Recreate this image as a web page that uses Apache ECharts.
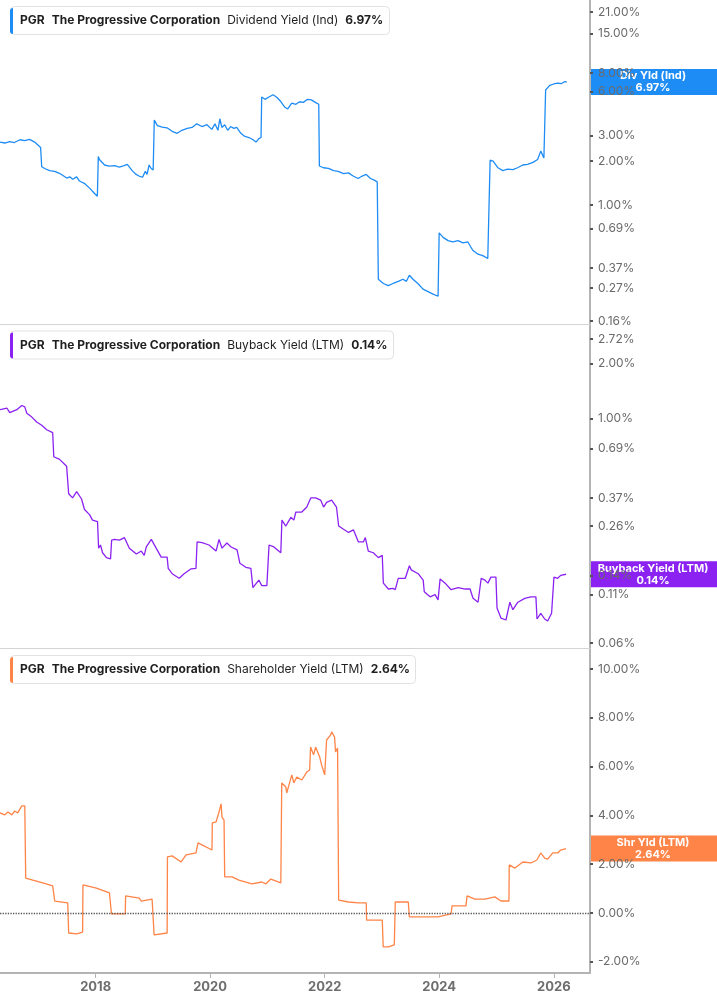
<!DOCTYPE html>
<html lang="en">
<head>
<meta charset="UTF-8">
<title>PGR yields</title>
<script src="https://cdn.jsdelivr.net/npm/echarts@6/dist/echarts.min.js"></script>
<style>
  html, body { margin: 0; padding: 0; background: #fff; }
  #main { width: 717px; height: 1005px; }
</style>
</head>
<body>
<div id="main"></div>
<script>
// dividend yield (ind), %
var divDates = ['2016-05-01','2016-06-01','2016-07-01','2016-08-01','2016-09-05','2016-10-05','2016-11-05','2016-12-08','2017-01-15','2017-01-22',
  '2017-02-10','2017-03-13','2017-04-15','2017-05-15','2017-07-01','2017-07-20','2017-08-08','2017-09-02','2017-09-20','2017-10-24','2017-11-25','2017-12-25','2018-01-12','2018-01-18',
  '2018-01-25','2018-02-27','2018-03-28','2018-05-01','2018-06-01','2018-07-01','2018-07-22','2018-08-22','2018-09-16','2018-10-05','2018-10-27','2018-11-14','2018-11-25','2018-12-08','2018-12-21','2019-01-03','2019-01-10',
  '2019-01-30','2019-03-01','2019-04-01','2019-05-04','2019-06-05','2019-07-05','2019-08-08','2019-09-08','2019-10-08','2019-11-10','2019-12-12','2020-01-12','2020-02-01','2020-02-20','2020-03-03','2020-03-16','2020-04-03','2020-04-22','2020-05-11','2020-06-01','2020-06-19','2020-07-15','2020-08-10','2020-09-05','2020-10-01','2020-10-20','2020-11-07','2020-11-21','2020-11-25',
  '2020-12-16','2021-01-10','2021-02-06','2021-03-03','2021-03-28','2021-04-20','2021-05-10','2021-06-05','2021-07-01','2021-07-25','2021-08-18','2021-09-13','2021-10-08','2021-11-02','2021-11-24','2021-11-28',
  '2021-12-24','2022-01-25','2022-02-27','2022-03-28','2022-05-01','2022-06-02','2022-07-01','2022-08-02','2022-08-28','2022-09-23','2022-10-20','2022-11-13','2022-12-02','2022-12-09',
  '2023-01-10','2023-02-10','2023-03-13','2023-04-15','2023-05-15','2023-06-06','2023-06-25','2023-07-18','2023-08-18','2023-09-20','2023-10-22','2023-11-23','2023-12-25','2024-01-01',
  '2024-01-26','2024-02-27','2024-03-28','2024-04-30','2024-06-01','2024-07-01','2024-08-02','2024-09-05','2024-10-05','2024-11-06','2024-11-21',
  '2024-12-10','2025-01-10','2025-02-10','2025-03-13','2025-04-15','2025-05-15','2025-06-17','2025-07-18','2025-08-21','2025-09-20','2025-10-10','2025-10-30','2025-11-10',
  '2025-12-06','2026-01-01','2026-01-26','2026-02-20','2026-03-10','2026-03-25'];
var divValues = [2.70,2.66,2.72,2.68,2.80,2.76,2.82,2.70,2.48,1.83,
  1.78,1.72,1.70,1.65,1.53,1.56,1.50,1.56,1.46,1.40,1.30,1.20,1.15,2.15,
  2.05,1.88,1.85,1.86,1.82,1.86,1.90,1.72,1.62,1.58,1.55,1.70,1.62,1.88,1.78,1.74,3.82,
  3.50,3.42,3.38,3.20,3.10,3.25,3.35,3.40,3.60,3.45,3.55,3.30,3.60,3.25,3.90,3.40,3.55,3.25,3.45,3.35,3.40,3.10,2.95,2.90,2.80,2.70,2.85,2.90,5.50,
  5.30,5.50,5.70,5.45,5.10,4.70,4.55,5.00,4.90,5.10,5.05,5.30,5.25,5.05,4.90,1.85,
  1.80,1.78,1.72,1.70,1.64,1.66,1.58,1.52,1.58,1.62,1.52,1.48,1.44,0.31,
  0.29,0.28,0.29,0.30,0.31,0.30,0.33,0.31,0.29,0.265,0.255,0.245,0.237,0.645,
  0.60,0.57,0.56,0.57,0.55,0.56,0.49,0.46,0.45,0.43,2.03,
  2.00,1.80,1.72,1.76,1.75,1.80,1.88,1.90,1.96,2.05,2.34,2.10,6.14,
  6.60,6.75,6.85,6.80,7.00,6.97];

// buyback yield (LTM), %
var bbDates = ['2016-05-01','2016-06-15','2016-07-02','2016-08-16','2016-09-17','2016-10-06','2016-10-19','2016-11-20','2016-12-21','2017-01-22','2017-02-23','2017-04-02','2017-04-09',
  '2017-05-16','2017-06-30','2017-07-12','2017-07-13','2017-08-07','2017-09-02','2017-10-03','2017-10-22','2017-11-23','2017-12-12','2018-01-13','2018-01-20',
  '2018-02-01','2018-02-14','2018-03-11','2018-04-06','2018-04-13','2018-05-01','2018-06-02','2018-07-03','2018-08-04','2018-09-18','2018-10-19','2018-11-07','2018-11-20','2018-12-22',
  '2019-01-22','2019-02-23','2019-04-02','2019-04-09','2019-05-04','2019-06-18','2019-07-19','2019-09-02','2019-10-03','2019-10-10','2019-11-10','2019-12-25',
  '2020-02-08','2020-02-27','2020-03-17','2020-04-17','2020-05-14','2020-06-21','2020-07-09','2020-08-16','2020-09-17','2020-09-30','2020-11-07','2020-11-26','2020-12-28',
  '2021-01-11','2021-02-11','2021-03-27','2021-04-03','2021-04-28','2021-05-30','2021-06-18','2021-07-01','2021-08-08','2021-09-09','2021-10-04','2021-11-04','2021-12-06','2021-12-25',
  '2022-01-13','2022-02-14','2022-03-17','2022-03-31','2022-05-01','2022-06-02','2022-07-03','2022-08-04','2022-09-05','2022-09-17','2022-10-06','2022-11-07','2022-12-09',
  '2023-01-03','2023-01-10','2023-02-11','2023-03-14','2023-03-27','2023-04-15','2023-05-30','2023-06-25','2023-07-07','2023-08-20','2023-09-21','2023-09-28','2023-11-04','2023-12-06','2023-12-25',
  '2024-01-07','2024-02-08','2024-03-17','2024-05-01','2024-06-15','2024-07-16','2024-08-04','2024-09-05','2024-09-25','2024-10-19','2024-11-07','2024-11-26','2024-12-28',
  '2025-01-04','2025-01-29','2025-03-02','2025-03-27','2025-04-15','2025-05-17','2025-06-30','2025-08-08','2025-09-09','2025-09-16','2025-10-10','2025-11-04','2025-11-23','2025-12-18',
  '2026-01-02','2026-01-26','2026-02-14','2026-03-20'];
var bbValues = [1.12,1.14,1.08,1.12,1.18,1.16,1.07,1.02,0.96,0.92,0.87,0.84,0.62,
  0.60,0.55,0.54,0.39,0.37,0.40,0.365,0.32,0.30,0.28,0.275,0.197,
  0.205,0.186,0.175,0.172,0.218,0.22,0.218,0.225,0.197,0.183,0.19,0.18,0.20,0.22,
  0.197,0.176,0.176,0.153,0.143,0.135,0.143,0.152,0.153,0.213,0.211,0.205,
  0.19,0.22,0.197,0.21,0.20,0.193,0.163,0.155,0.153,0.12,0.132,0.123,0.123,
  0.205,0.20,0.186,0.28,0.26,0.29,0.28,0.31,0.31,0.33,0.37,0.37,0.36,0.33,
  0.35,0.36,0.33,0.26,0.25,0.24,0.248,0.213,0.213,0.225,0.19,0.186,0.175,
  0.18,0.127,0.118,0.119,0.117,0.135,0.135,0.158,0.15,0.143,0.132,0.114,0.107,0.11,0.103,
  0.134,0.127,0.117,0.12,0.118,0.118,0.105,0.10,0.135,0.132,0.127,0.137,0.137,
  0.093,0.082,0.080,0.10,0.091,0.10,0.105,0.107,0.107,0.081,0.087,0.081,0.079,0.087,
  0.137,0.135,0.14,0.142];

// shareholder yield (LTM), %
var shyDates = ['2016-05-01','2016-06-01','2016-06-20','2016-07-16','2016-08-03','2016-08-22','2016-09-17','2016-10-06','2016-10-12',
  '2016-11-26','2017-01-29','2017-04-02','2017-04-15','2017-07-07','2017-07-13','2017-09-02','2017-10-10','2017-10-12',
  '2018-01-06','2018-03-30','2018-04-12','2018-07-09','2018-07-11','2018-10-06','2018-10-19','2018-12-27','2019-01-09','2019-04-02','2019-04-04',
  '2019-05-04','2019-06-30','2019-08-01','2019-10-03','2019-10-16','2019-11-10','2020-01-13','2020-01-15','2020-02-08','2020-02-27','2020-03-11','2020-03-17','2020-03-30','2020-04-03',
  '2020-05-20','2020-07-03','2020-09-24','2020-11-26','2020-12-21','2021-01-22','2021-03-27','2021-04-02',
  '2021-04-28','2021-05-04','2021-06-05','2021-06-18','2021-07-07','2021-08-08','2021-09-09','2021-09-27','2021-10-03','2021-10-22','2021-11-04','2021-11-30','2021-12-12',
  '2022-01-01','2022-01-07','2022-01-13','2022-02-08','2022-02-14','2022-03-05','2022-03-11','2022-03-24','2022-03-31',
  '2022-06-02','2022-08-04','2022-09-23','2022-09-25','2023-01-03','2023-01-09','2023-02-11','2023-03-21','2023-03-27','2023-06-18','2023-06-25',
  '2023-12-25','2024-01-06','2024-03-17','2024-03-23','2024-06-20','2024-06-27','2024-08-16','2024-10-19','2024-12-21','2025-01-29','2025-03-21','2025-03-23',
  '2025-04-28','2025-06-18','2025-08-08','2025-09-15','2025-10-10','2025-11-04','2025-11-23','2025-12-25','2026-01-26','2026-02-14','2026-03-20'];
var shyValues = [4.10,4.02,4.14,4.02,4.18,4.10,4.39,4.39,1.43,
  1.35,1.23,1.11,0.49,0.41,-0.82,-0.86,-0.78,1.15,
  1.02,0.82,-0.04,-0.04,0.70,0.61,0.49,0.57,-0.90,-0.82,2.30,
  2.34,2.09,2.38,2.46,2.87,2.79,2.58,3.69,3.73,4.14,4.47,3.93,3.81,1.48,
  1.48,1.35,1.19,1.27,1.19,1.39,1.23,5.33,
  5.16,4.92,5.66,5.33,5.57,5.45,5.78,5.86,6.80,6.48,6.80,6.39,6.07,
  5.66,5.70,7.09,7.30,7.42,7.21,6.60,6.76,0.53,
  0.45,0.41,0.41,-0.29,-0.29,-1.39,-1.39,-1.31,0.45,0.45,-0.16,
  -0.16,-0.08,-0.04,0.29,0.29,0.70,0.57,0.57,0.66,0.49,0.49,1.97,
  1.84,2.09,2.05,2.17,2.46,2.25,2.21,2.46,2.46,2.58,2.64];

// axis ticks
var divTicks = [21, 15, 8, 6, 3, 2, 1, 0.69, 0.37, 0.27, 0.16];
var bbTicks = [2.72, 2, 1, 0.69, 0.37, 0.26, 0.14, 0.11, 0.06];
var shyTicks = [-2, 0, 2, 4, 6, 8, 10];
var yearTicks = ['2018-01-01', '2020-01-01', '2022-01-01', '2024-01-01', '2026-01-01'];

var panels = [
  { name: 'Dividend Yield (Ind)', short: 'Div Yld (Ind)', last: '6.97%', color: '#1e8cf5', dates: divDates, values: divValues },
  { name: 'Buyback Yield (LTM)', short: 'Buyback Yield (LTM)', last: '0.14%', color: '#8b22f2', dates: bbDates, values: bbValues },
  { name: 'Shareholder Yield (LTM)', short: 'Shr Yld (LTM)', last: '2.64%', color: '#ff8447', dates: shyDates, values: shyValues }
];

var FONT = 'Inter, "Noto Sans", sans-serif';

function ts(d) {
  return new Date(d + 'T00:00:00Z').getTime();
}
function pairs(d, v) {
  return d.map(function (x, i) { return [ts(x), v[i]]; });
}
function pct(v) {
  return (+v).toFixed(2) + '%';
}

var grids = [
  { left: 0, right: 127, top: 0, height: 324 },
  { left: 0, right: 127, top: 324, height: 324 },
  { left: 0, right: 127, top: 648, height: 325 }
];

// value axis on timestamps so the year ticks can be placed on 1 Jan
var yearTs = yearTicks.map(ts);
var xAxes = grids.map(function (g, i) {
  var last = i === 2;
  return {
    type: 'value', gridIndex: i, min: ts('2016-05-01'), max: ts('2026-08-20'),
    axisLine: { show: true, onZero: false, lineStyle: { color: last ? '#b4b4b4' : '#d4d4d4', width: last ? 2 : 1 } },
    axisTick: { show: last, customValues: yearTs, length: 5, lineStyle: { color: '#b4b4b4', width: 1 } },
    axisLabel: {
      show: last, customValues: yearTs, margin: 8,
      color: '#6e6e6e', fontSize: 13, fontWeight: 'bold', fontFamily: FONT,
      formatter: function (v) { return String(new Date(v).getUTCFullYear()); }
    },
    splitLine: { show: false }
  };
});

function yAxisBase(i, ticks) {
  return {
    gridIndex: i, position: 'right',
    axisLine: { show: true, lineStyle: { color: '#b4b4b4', width: 2 } },
    axisTick: { show: true, customValues: ticks, length: 3, lineStyle: { color: '#555', width: 2 } },
    axisLabel: { customValues: ticks, margin: 8, color: '#6a6a6a', fontSize: 12, fontFamily: FONT, formatter: pct },
    splitLine: { show: false }
  };
}

var yAxes = [
  Object.assign(yAxisBase(0, divTicks), { type: 'log', logBase: 10, min: 0.153, max: 25.4 }),
  Object.assign(yAxisBase(1, bbTicks), { type: 'log', logBase: 10, min: 0.0563, max: 3.28 }),
  Object.assign(yAxisBase(2, shyTicks), { type: 'value', min: -2.46, max: 10.86 })
];

var titles = panels.map(function (p, i) {
  return {
    left: 10, top: 8 + i * 324.5,
    padding: [5, 6, 5, 10],
    backgroundColor: '#fff', borderColor: '#e2e2e2', borderWidth: 1, borderRadius: 4,
    text: '{b|PGR}{g|}{b|The Progressive Corporation}{g|}{n|' + p.name + '}{g|}{b|' + p.last + '}',
    textStyle: {
      rich: {
        b: { fontFamily: FONT, fontSize: 12, fontWeight: 'bold', color: '#1f1f1f', lineHeight: 15 },
        n: { fontFamily: FONT, fontSize: 12, fontWeight: 'normal', color: '#1f1f1f', lineHeight: 15 },
        g: { width: 7, lineHeight: 15 }
      }
    }
  };
});

var series = panels.map(function (p, i) {
  var s = {
    type: 'line', xAxisIndex: i, yAxisIndex: i,
    data: pairs(p.dates, p.values),
    showSymbol: false, symbol: 'none',
    lineStyle: { color: p.color, width: 1.3 },
    itemStyle: { color: p.color },
    silent: true
  };
  if (i === 2) {
    s.markLine = {
      silent: true, symbol: ['none', 'none'], label: { show: false },
      lineStyle: { color: '#555', type: 'dotted', width: 1.3 },
      data: [{ yAxis: 0 }]
    };
  }
  return s;
});

var chart = echarts.init(document.getElementById('main'), null, { renderer: 'canvas' });
chart.setOption({
  animation: false,
  backgroundColor: '#fff',
  title: titles,
  grid: grids,
  xAxis: xAxes,
  yAxis: yAxes,
  series: series
});

// legend accent bars and last-value tags on the right axis
var graphics = [];
panels.forEach(function (p, i) {
  graphics.push({
    type: 'rect', left: 10, top: 8 + i * 324.5, z: 100,
    shape: { width: 3, height: 26, r: [3, 0, 0, 3] },
    style: { fill: p.color }
  });
  var y = chart.convertToPixel({ yAxisIndex: i }, p.values[p.values.length - 1]);
  graphics.push({
    type: 'group', left: 590, top: y - 13, z: 100,
    children: [
      { type: 'rect', shape: { x: 0, y: 0, width: 127, height: 26 }, style: { fill: p.color } },
      {
        type: 'text', x: 63, y: 13,
        style: {
          text: p.short + '\n' + p.last, fill: '#fff', align: 'center', verticalAlign: 'middle',
          font: 'bold 11px ' + FONT, lineHeight: 12
        }
      }
    ]
  });
});
chart.setOption({ graphic: graphics });
</script>
</body>
</html>
